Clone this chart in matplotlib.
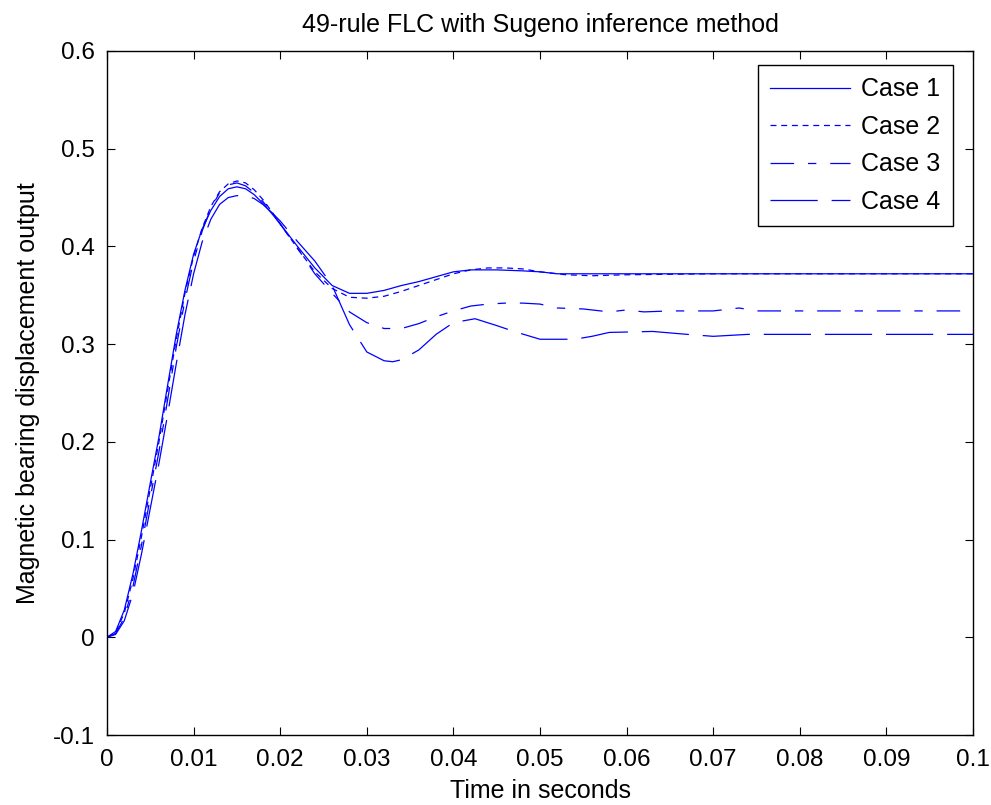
import matplotlib
matplotlib.use("Agg")
import matplotlib.pyplot as plt

plt.rcParams['font.family'] = ['Liberation Sans', 'DejaVu Sans']
plt.rcParams['lines.scale_dashes'] = False

title = "49-rule FLC with Sugeno inference method"
xlabel = "Time in seconds"
ylabel = "Magnetic bearing displacement output"
labels = ["Case 1", "Case 2", "Case 3", "Case 4"]

# Case 1
t1 = [0.0, 0.001, 0.002, 0.003, 0.004, 0.005, 0.006, 0.007, 0.008, 0.009, 0.010,
      0.011, 0.012, 0.013, 0.014, 0.015, 0.016, 0.017, 0.018, 0.019, 0.020, 0.022,
      0.024, 0.026, 0.028, 0.030, 0.032, 0.034, 0.036, 0.038, 0.040, 0.042, 0.045,
      0.048, 0.050, 0.052, 0.055, 0.060, 0.070, 0.080, 0.090, 0.100]
y1 = [0.0, 0.006, 0.028, 0.065, 0.11, 0.158, 0.205, 0.258, 0.31, 0.355, 0.392,
      0.418, 0.437, 0.451, 0.459, 0.461, 0.459, 0.453, 0.444, 0.434, 0.423, 0.40,
      0.378, 0.36, 0.352, 0.352, 0.355, 0.360, 0.364, 0.369, 0.374, 0.376, 0.376,
      0.375, 0.374, 0.372, 0.372, 0.372, 0.372, 0.372, 0.372, 0.372]

# Case 2
t2 = [0.0, 0.001, 0.002, 0.003, 0.004, 0.005, 0.006, 0.007, 0.008, 0.009, 0.010,
      0.011, 0.012, 0.013, 0.014, 0.015, 0.016, 0.017, 0.018, 0.019, 0.020, 0.022,
      0.024, 0.026, 0.028, 0.030, 0.032, 0.034, 0.036, 0.038, 0.040, 0.042, 0.044,
      0.046, 0.048, 0.050, 0.053, 0.056, 0.060, 0.070, 0.080, 0.090, 0.100]
y2 = [0.0, 0.005, 0.025, 0.06, 0.104, 0.152, 0.2, 0.253, 0.305, 0.352, 0.39,
      0.419, 0.441, 0.456, 0.464, 0.467, 0.465, 0.458, 0.448, 0.436, 0.423, 0.398,
      0.374, 0.357, 0.348, 0.347, 0.349, 0.354, 0.36, 0.366, 0.372, 0.376, 0.378,
      0.378, 0.377, 0.374, 0.371, 0.370, 0.371, 0.372, 0.372, 0.372, 0.372]

# Case 3
t3 = [0.0, 0.001, 0.002, 0.003, 0.004, 0.005, 0.006, 0.007, 0.008, 0.009, 0.010,
      0.011, 0.012, 0.013, 0.014, 0.015, 0.016, 0.017, 0.018, 0.019, 0.020, 0.022,
      0.024, 0.026, 0.028, 0.030, 0.032, 0.034, 0.036, 0.038, 0.040, 0.042, 0.044,
      0.046, 0.048, 0.050, 0.052, 0.055, 0.058, 0.060, 0.062, 0.065, 0.070, 0.073,
      0.075, 0.080, 0.090, 0.100]
y3 = [0.0, 0.004, 0.02, 0.052, 0.095, 0.143, 0.19, 0.243, 0.297, 0.345, 0.385,
      0.416, 0.439, 0.455, 0.463, 0.465, 0.462, 0.455, 0.446, 0.435, 0.423, 0.398,
      0.372, 0.352, 0.333, 0.322, 0.316, 0.316, 0.321, 0.328, 0.334, 0.339, 0.341,
      0.342, 0.342, 0.341, 0.337, 0.336, 0.333, 0.335, 0.333, 0.334, 0.334, 0.337,
      0.334, 0.334, 0.334, 0.334]

# Case 4
t4 = [0.0, 0.001, 0.002, 0.003, 0.004, 0.005, 0.006, 0.007, 0.008, 0.009, 0.010,
      0.011, 0.012, 0.013, 0.014, 0.015, 0.016, 0.017, 0.018, 0.019, 0.020, 0.022,
      0.024, 0.026, 0.028, 0.030, 0.032, 0.033, 0.034, 0.036, 0.038, 0.040, 0.0425,
      0.045, 0.047, 0.050, 0.054, 0.056, 0.058, 0.063, 0.067, 0.070, 0.074, 0.080,
      0.090, 0.100]
y4 = [0.0, 0.003, 0.017, 0.045, 0.086, 0.132, 0.178, 0.228, 0.28, 0.33, 0.372,
      0.405, 0.428, 0.443, 0.45, 0.452, 0.452, 0.449, 0.443, 0.435, 0.426, 0.405,
      0.385, 0.36, 0.32, 0.292, 0.283, 0.282, 0.284, 0.294, 0.31, 0.322, 0.326,
      0.319, 0.313, 0.305, 0.305, 0.308, 0.312, 0.313, 0.310, 0.308, 0.310, 0.310,
      0.310, 0.310]

styles = [
    "-",
    (0, (4.3, 3.4)),
    (0, (17, 10, 6, 10)),
    (0, (34, 10)),
]

W, H = 991, 805
fig = plt.figure(figsize=(W / 100, H / 100), dpi=100)
ax = fig.add_axes([107 / W, 1 - 735 / H, 866 / W, 684 / H])

for t, y, ls, lab in zip([t1, t2, t3, t4], [y1, y2, y3, y4], styles, labels):
    ax.plot(t, y, color="blue", linestyle=ls, linewidth=0.9, label=lab)

ax.set_xlim(0, 0.1)
ax.set_ylim(-0.1, 0.6)
ax.set_xticks([i * 0.01 for i in range(11)])
ax.set_xticklabels(["0", "0.01", "0.02", "0.03", "0.04", "0.05", "0.06",
                    "0.07", "0.08", "0.09", "0.1"])
ax.set_yticks([-0.1, 0.0, 0.1, 0.2, 0.3, 0.4, 0.5, 0.6])
ax.set_yticklabels(["-0.1", "0", "0.1", "0.2", "0.3", "0.4", "0.5", "0.6"])
ax.tick_params(direction="in", length=6, width=0.8, labelsize=17.5, top=True,
               right=True)
ax.tick_params(axis="x", pad=10)
ax.tick_params(axis="y", pad=9)
for s in ax.spines.values():
    s.set_linewidth(1.0)

ax.set_title(title, fontsize=18, pad=14)
ax.set_xlabel(xlabel, fontsize=18, labelpad=6)
ax.set_ylabel(ylabel, fontsize=18, labelpad=9)

# legend box anchored at its upper-right corner
leg = ax.legend(loc="upper right",
                bbox_to_anchor=((953 - 107) / 866, (735 - 65) / 684),
                borderaxespad=0, fontsize=18, frameon=True, fancybox=False,
                edgecolor="black", framealpha=1, handlelength=3.2,
                handletextpad=0.45, borderpad=0.5, labelspacing=0.54)
leg.get_frame().set_linewidth(1.0)

fig.savefig("out.png", dpi=100)
